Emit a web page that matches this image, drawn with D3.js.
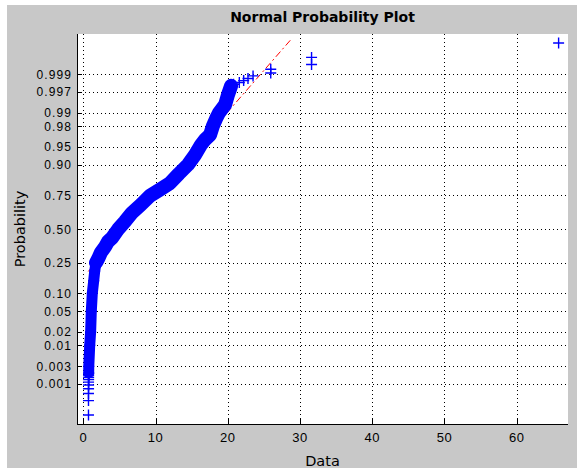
<!DOCTYPE html>
<html><head><meta charset="utf-8">
<script src="https://cdn.jsdelivr.net/npm/d3@7"></script>
<style>body{margin:0;background:#fff}svg{display:block}</style>
</head><body><svg id="c" width="577" height="468"></svg>
<script>
// ---- data ----
const xTicks = [0, 10, 20, 30, 40, 50, 60];
const probTicks = [0.001, 0.003, 0.01, 0.02, 0.05, 0.10, 0.25, 0.50, 0.75, 0.90, 0.95, 0.98, 0.99, 0.997, 0.999];
const probLabels = ["0.001", "0.003", "0.01", "0.02", "0.05", "0.10", "0.25", "0.50", "0.75", "0.90", "0.95", "0.98", "0.99", "0.997", "0.999"];

// dense central band of the sample (value, cumulative probability)
const bandProbs  = [0.002, 0.003, 0.01, 0.02, 0.05, 0.10, 0.15, 0.20, 0.25, 0.28, 0.32, 0.36, 0.40, 0.43, 0.50, 0.558, 0.625, 0.687, 0.747, 0.784, 0.821, 0.866, 0.901, 0.931, 0.954, 0.963, 0.970, 0.9806, 0.9863, 0.990, 0.9935, 0.9964, 0.9979];
const bandValues = [0.75, 0.76, 0.89, 1.02, 1.11, 1.25, 1.44, 1.58, 1.76, 2.10, 2.45, 3.01, 3.42, 3.98, 4.85, 5.75, 6.70, 7.99, 9.24, 10.58, 12.01, 13.25, 14.50, 15.47, 16.30, 16.86, 17.55, 17.96, 18.38, 18.80, 19.63, 20.04, 20.46];

// separated points in the lower tail
const lowerTailProbs  = [0.0001, 0.0003, 0.0005, 0.0007, 0.0009, 0.0011, 0.0013, 0.0015, 0.0017, 0.0019];
const lowerTailValues = [0.72, 0.72, 0.72, 0.73, 0.73, 0.73, 0.74, 0.74, 0.74, 0.75];

// separated points in the upper tail
const upperTailProbs  = [0.9981, 0.9983, 0.9985, 0.9987, 0.9989, 0.9991, 0.9993, 0.9995, 0.9997, 0.9999];
const upperTailValues = [20.8, 21.6, 22.2, 22.8, 23.5, 25.95, 25.95, 31.6, 31.6, 65.8];

// fitted reference line end points
const refLineValues = [0.69, 28.86];
const refLineProbs  = [0.198, 0.99993];

// ---- normal quantile (probability axis transform) ----
function probit(p) {
  const a = [-3.969683028665376e+01, 2.209460984245205e+02, -2.759285104469687e+02, 1.383577518672690e+02, -3.066479806614716e+01, 2.506628277459239e+00];
  const b = [-5.447609879822406e+01, 1.615858368580409e+02, -1.556989798598866e+02, 6.680131188771972e+01, -1.328068155288572e+01];
  const c = [-7.784894002430293e-03, -3.223964580411365e-01, -2.400758277161838e+00, -2.549732539343734e+00, 4.374664141464968e+00, 2.938163982698783e+00];
  const d = [7.784695709041462e-03, 3.224671290700398e-01, 2.445134137142996e+00, 3.754408661907416e+00];
  const plow = 0.02425;
  let q, r;
  if (p < plow) {
    q = Math.sqrt(-2 * Math.log(p));
    return (((((c[0]*q+c[1])*q+c[2])*q+c[3])*q+c[4])*q+c[5]) / ((((d[0]*q+d[1])*q+d[2])*q+d[3])*q+1);
  } else if (p <= 1 - plow) {
    q = p - 0.5; r = q * q;
    return (((((a[0]*r+a[1])*r+a[2])*r+a[3])*r+a[4])*r+a[5])*q / (((((b[0]*r+b[1])*r+b[2])*r+b[3])*r+b[4])*r+1);
  } else {
    q = Math.sqrt(-2 * Math.log(1 - p));
    return -(((((c[0]*q+c[1])*q+c[2])*q+c[3])*q+c[4])*q+c[5]) / ((((d[0]*q+d[1])*q+d[2])*q+d[3])*q+1);
  }
}

// ---- drawing ----
const svg = d3.select("#c");
const L = 77, R = 568, T = 34, B = 424;

svg.append("rect").attr("x", 7).attr("y", 5).attr("width", 570).attr("height", 463).attr("fill", "#c8c8c8");
svg.append("rect").attr("x", L).attr("y", T).attr("width", R - L).attr("height", B - T).attr("fill", "#ffffff");

const x = d3.scaleLinear().domain([-0.87, 67.1]).range([L, R]);
const zScale = d3.scaleLinear().domain([-3.9, 3.9]).range([B, T]);
const y = p => zScale(probit(p));
const cx = v => Math.round(x(v)) + 0.5;
const cy = p => Math.round(y(p)) + 0.5;

svg.append("defs").append("clipPath").attr("id", "clip")
  .append("rect").attr("x", L).attr("y", T).attr("width", R - L).attr("height", B - T);

// grid
const grid = svg.append("g").attr("stroke", "#000").attr("stroke-width", 1)
  .attr("stroke-dasharray", "1,3").attr("shape-rendering", "crispEdges");
grid.selectAll("line.v").data(xTicks).join("line").attr("class", "v")
  .attr("x1", d => cx(d)).attr("x2", d => cx(d)).attr("y1", T).attr("y2", B);
grid.selectAll("line.h").data(probTicks).join("line").attr("class", "h")
  .attr("x1", L).attr("x2", R).attr("y1", d => cy(d)).attr("y2", d => cy(d));

const plot = svg.append("g").attr("clip-path", "url(#clip)");

// reference line
const refData = refLineValues.map((v, i) => ({v, p: refLineProbs[i]}));
plot.append("path").datum(refData)
  .attr("d", d3.line().x(d => x(d.v)).y(d => y(d.p)))
  .attr("fill", "none").attr("stroke", "#ff0000").attr("stroke-width", 1)
  .attr("stroke-dasharray", "7,3,2,3");

// dense band (narrower in the steep lower part, wider where it slants)
const band = bandValues.map((v, i) => ({v, p: bandProbs[i]}));
const bandLine = d3.line().x(d => x(d.v)).y(d => y(d.p));
const splitIdx = bandProbs.indexOf(0.25);
plot.append("path").datum(band.slice(0, splitIdx + 1))
  .attr("d", bandLine)
  .attr("fill", "none").attr("stroke", "#0000ff").attr("stroke-width", 11)
  .attr("stroke-linejoin", "round").attr("stroke-linecap", "round");
plot.append("path").datum(band.slice(splitIdx))
  .attr("d", bandLine)
  .attr("fill", "none").attr("stroke", "#0000ff").attr("stroke-width", 14)
  .attr("stroke-linejoin", "round").attr("stroke-linecap", "round");

// + markers
const pts = band
  .concat(lowerTailValues.map((v, i) => ({v, p: lowerTailProbs[i]})))
  .concat(upperTailValues.map((v, i) => ({v, p: upperTailProbs[i]})));
plot.selectAll("path.m").data(pts).join("path").attr("class", "m")
  .attr("d", d => `M${x(d.v) - 5.5},${y(d.p)}H${x(d.v) + 5.5}M${x(d.v)},${y(d.p) - 5.5}V${y(d.p) + 5.5}`)
  .attr("fill", "none").attr("stroke", "#0000ff").attr("stroke-width", 1.4);

// axes
const axes = svg.append("g").attr("shape-rendering", "crispEdges").attr("stroke", "#000");
axes.append("line").attr("x1", L + 0.5).attr("x2", L + 0.5).attr("y1", T).attr("y2", B + 1);
axes.append("line").attr("x1", L).attr("x2", R).attr("y1", B + 0.5).attr("y2", B + 0.5);
axes.selectAll("line.xt").data(xTicks).join("line").attr("class", "xt")
  .attr("x1", d => cx(d)).attr("x2", d => cx(d)).attr("y1", B).attr("y2", B - 5);
axes.selectAll("line.yt").data(probTicks).join("line").attr("class", "yt")
  .attr("x1", L).attr("x2", L + 5).attr("y1", d => cy(d)).attr("y2", d => cy(d));

// tick labels
const numFont = "'Liberation Sans', Arial, sans-serif";
svg.selectAll("text.xl").data(xTicks).join("text").attr("class", "xl")
  .attr("x", d => x(d)).attr("y", 442).attr("text-anchor", "middle")
  .attr("font-family", numFont).attr("font-size", 13).attr("letter-spacing", 0.5)
  .attr("fill", "#000").text(d => d);
svg.selectAll("text.yl").data(probTicks).join("text").attr("class", "yl")
  .attr("x", 72).attr("y", d => y(d) + 4.5).attr("text-anchor", "end")
  .attr("font-family", numFont).attr("font-size", 12).attr("letter-spacing", 1.1)
  .attr("fill", "#000")
  .text((d, i) => probLabels[i]);

// title and axis labels
svg.append("text").attr("x", (L + R) / 2).attr("y", 22).attr("text-anchor", "middle")
  .attr("font-family", "'DejaVu Sans', sans-serif").attr("font-weight", "bold").attr("font-size", 14)
  .attr("fill", "#000").text("Normal Probability Plot");
svg.append("text").attr("x", (L + R) / 2).attr("y", 466).attr("text-anchor", "middle")
  .attr("font-family", "'DejaVu Sans', sans-serif").attr("font-size", 14.5)
  .attr("fill", "#000").text("Data");
svg.append("text").attr("transform", `translate(25,${(T + B) / 2}) rotate(-90)`).attr("text-anchor", "middle")
  .attr("font-family", "'DejaVu Sans', sans-serif").attr("font-size", 14.5)
  .attr("fill", "#000").text("Probability");
</script></body></html>
